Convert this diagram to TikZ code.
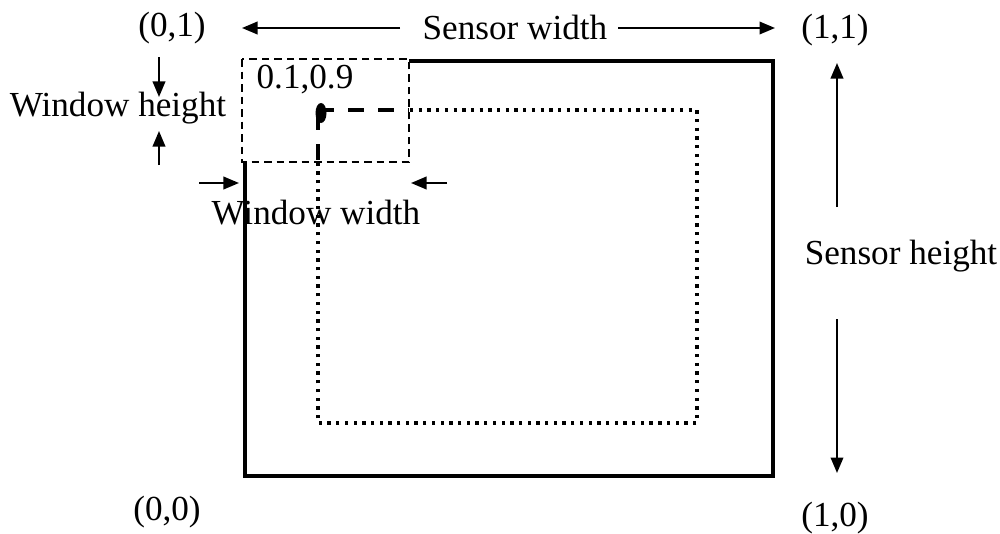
\documentclass[tikz,border=0pt]{standalone}
\usepackage{fontspec}
\setmainfont{Liberation Serif}
\usetikzlibrary{arrows.meta}
\begin{document}
\begin{tikzpicture}[x=0.01cm,y=-0.01cm,
  font=\fontsize{10}{12}\selectfont,
  lbl/.style={inner sep=0pt},
  arr/.style={line width=0.6pt,-{Triangle[length=1.55mm,width=1.25mm]}},
  sensor/.style={line width=1.1pt,line join=miter},
  win/.style={line width=0.6pt,dash pattern=on 0.075cm off 0.05cm},
  roi/.style={line width=1.05pt,dash pattern=on 0.033cm off 0.054cm},
  roidash/.style={line width=1.05pt,dash pattern=on 0.16cm off 0.14cm}]
\useasboundingbox (0,0) rectangle (1000,533);

% labels
\node[lbl] (p01) at (172,28) {(0,1)};
\node[lbl] (sw) at (515,27) {Sensor width};
\node[lbl] (p11) at (835,30) {(1,1)};
\node[lbl] (wh) at (118,108) {Window height};
\node[lbl] (v09) at (305,80) {0.1,0.9};
\node[lbl] (ww) at (316,213) {Window width};
\node[lbl] (sh) at (901,256) {Sensor height};
\node[lbl] (p00) at (167,512) {(0,0)};
\node[lbl] (p10) at (835,518) {(1,0)};

% free arrow ends
\coordinate (swLs) at (400,28);
\coordinate (swLe) at (242,28);
\coordinate (swRs) at (618,28);
\coordinate (swRe) at (775,28);
\coordinate (shUs) at (837,207);
\coordinate (shUe) at (837,63);
\coordinate (shDs) at (837,319);
\coordinate (shDe) at (837,473);
\coordinate (whDs) at (159,57);
\coordinate (whDe) at (159,97);
\coordinate (whUs) at (159,165);
\coordinate (whUe) at (159,131);
\coordinate (wwRs) at (199,183);
\coordinate (wwRe) at (239,183);
\coordinate (wwLs) at (447,183);
\coordinate (wwLe) at (411,183);

\draw[arr] (swLs) -- (swLe);
\draw[arr] (swRs) -- (swRe);
\draw[arr] (shUs) -- (shUe);
\draw[arr] (shDs) -- (shDe);
\draw[arr] (whDs) -- (whDe);
\draw[arr] (whUs) -- (whUe);
\draw[arr] (wwRs) -- (wwRe);
\draw[arr] (wwLs) -- (wwLe);

% sensor outline
\draw[sensor] (409,61) -- (773,61) -- (773,476) -- (245,476) -- (245,163);

% window
\draw[win] (242,59) rectangle (409,162);

% region of interest (dotted)
\draw[roi] (410,110) -- (697,110) -- (697,423) -- (318,423) -- (318,163);
\draw[roidash] (318,110) -- (409,110);
\draw[roidash] (318,114) -- (318,162);

% origin point
\fill (321,113) ellipse [x radius=0.055cm, y radius=0.1cm];
\end{tikzpicture}
\end{document}
